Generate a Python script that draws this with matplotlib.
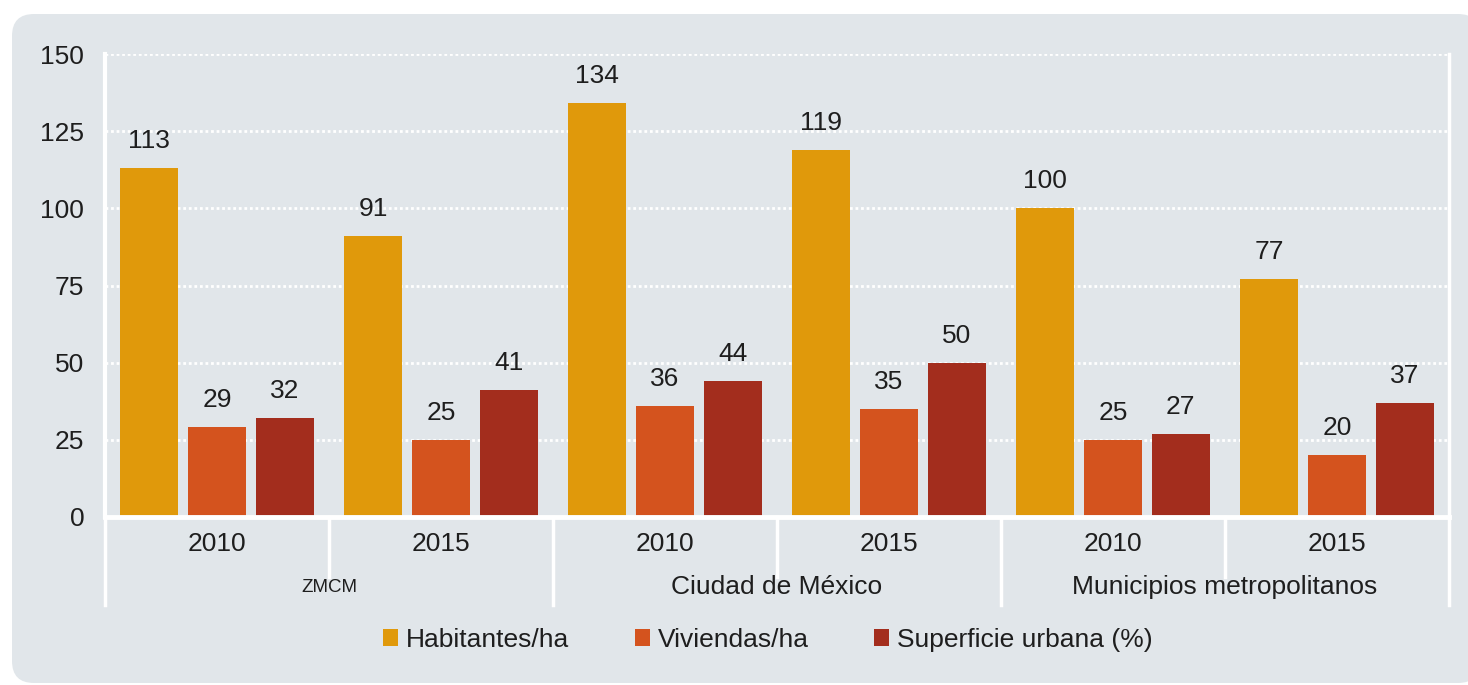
import matplotlib
matplotlib.use("Agg")
import matplotlib.pyplot as plt
import numpy as np
from matplotlib.patches import FancyBboxPatch, Patch
import matplotlib.transforms as mtransforms

plt.rcParams['font.family'] = ['Liberation Sans', 'DejaVu Sans']

# datos
grupos = ['ZMCM', 'Ciudad de México', 'Municipios metropolitanos']
anios = ['2010', '2015', '2010', '2015', '2010', '2015']
habitantes = [113, 91, 134, 119, 100, 77]
viviendas = [29, 25, 36, 35, 25, 20]
superficie = [32, 41, 44, 50, 27, 37]
series = ['Habitantes/ha', 'Viviendas/ha', 'Superficie urbana (%)']
colores = ['#E0990B', '#D4531E', '#A32D1D']

fondo = '#E1E6EA'
texto = '#1E1E1E'

W, H = 1468, 685
fig = plt.figure(figsize=(W / 100, H / 100), dpi=100, facecolor='white')

# fondo redondeado (coordenadas en pixeles, origen abajo)
caja = FancyBboxPatch((12, 2), W, H - 16, boxstyle='round,pad=0,rounding_size=22',
                      transform=None, facecolor=fondo, edgecolor='none', zorder=-10)
fig.patches.append(caja)

ax_l, ax_r, ax_t, ax_b = 105, 1449, 54, 517
ax = fig.add_axes([ax_l / W, 1 - ax_b / H, (ax_r - ax_l) / W, (ax_b - ax_t) / H])
ax.set_facecolor('none')

x = np.arange(len(anios))
ancho = 0.26
for i, (vals, col) in enumerate(zip([habitantes, viviendas, superficie], colores)):
    pos = x + (i - 1) * 0.303
    ax.bar(pos, vals, width=ancho, color=col, edgecolor='none', zorder=3)
    for p, v in zip(pos, vals):
        ax.annotate(str(v), (p, v), xytext=(0, 14.4), textcoords='offset points',
                    ha='center', va='baseline', fontsize=19, color=texto)

ax.set_xlim(-0.5, len(anios) - 0.5)
ax.set_ylim(0, 150)
ax.set_yticks(range(0, 151, 25))
ax.yaxis.grid(True, color='white', linestyle=(0, (1, 1)), linewidth=2, zorder=1)
ax.set_axisbelow(True)
ax.tick_params(axis='y', length=0, pad=15, labelsize=19, labelcolor=texto)
ax.tick_params(axis='x', length=0, labelbottom=False)

ax.spines['top'].set_visible(False)
ax.spines['left'].set_color('white')
ax.spines['left'].set_linewidth(3)
ax.spines['right'].set_color('white')
ax.spines['right'].set_linewidth(2.5)
ax.spines['bottom'].set_color('white')
ax.spines['bottom'].set_linewidth(3.5)
ax.spines['bottom'].set_zorder(4)

# eje de categorías de dos niveles
trans = mtransforms.blended_transform_factory(ax.transData, ax.transAxes)
alto = ax_b - ax_t
def ya(py):
    return (ax_b - py) / alto

for xs in [0.5, 2.5, 4.5]:
    ax.plot([xs, xs], [0, ya(577)], transform=trans, color='white', lw=2.5, clip_on=False)
for xs in [-0.5, 1.5, 3.5, 5.5]:
    ax.plot([xs, xs], [0, ya(605)], transform=trans, color='white', lw=2.5, clip_on=False)

for xi, a in zip(x, anios):
    ax.text(xi, ya(544), a, transform=trans, ha='center', va='center', fontsize=19, color=texto)
for gi, g in enumerate(grupos):
    ax.text(2 * gi + 0.5, ya(587), g, transform=trans, ha='center', va='center',
            fontsize=13.5 if g == 'ZMCM' else 19, color=texto)

handles = [Patch(facecolor=c, edgecolor='none', label=s) for s, c in zip(series, colores)]
fig.legend(handles=handles, loc='center', bbox_to_anchor=(768 / W, 1 - 640 / H), ncol=3,
           frameon=False, fontsize=19, handlelength=0.55, handleheight=0.6,
           handletextpad=0.3, columnspacing=2.5, labelcolor=texto)

fig.savefig('out.png', dpi=100, facecolor='white')
